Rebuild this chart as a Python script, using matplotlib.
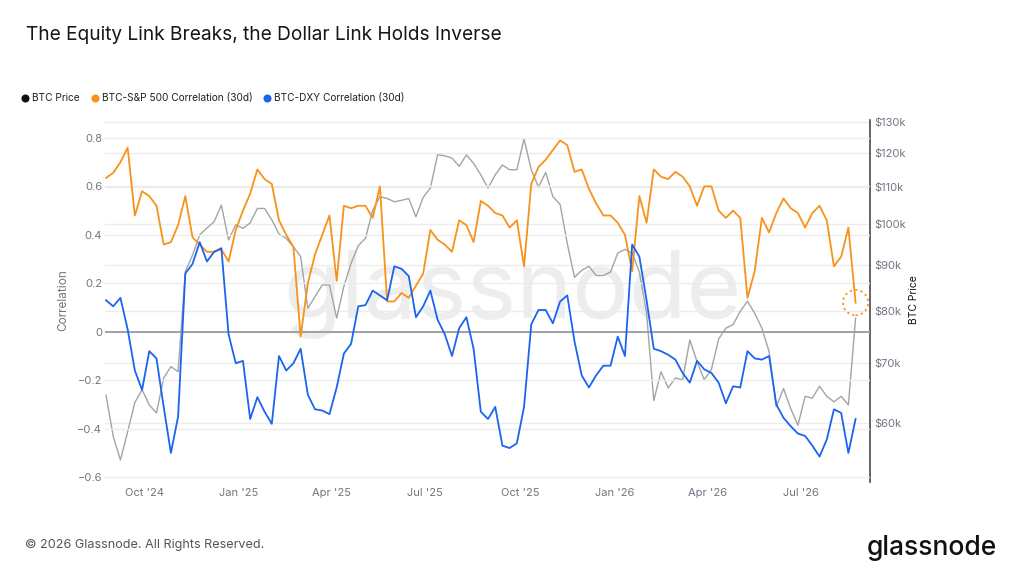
import matplotlib
matplotlib.use("Agg")
import matplotlib.pyplot as plt
import matplotlib.dates as mdates
from matplotlib.lines import Line2D
import pandas as pd

plt.rcParams['font.family'] = ['Inter', 'DejaVu Sans']

# ---------------- data (weekly samples) ----------------
dates = pd.date_range('2024-08-25', periods=105, freq='7D')

sp500_corr = [0.635, 0.656, 0.70, 0.76, 0.48, 0.58, 0.56, 0.52, 0.36, 0.37,
              0.44, 0.56, 0.39, 0.36, 0.33, 0.33, 0.34, 0.29, 0.42, 0.50,
              0.57, 0.67, 0.63, 0.61, 0.46, 0.40, 0.35, -0.02, 0.20, 0.32,
              0.40, 0.48, 0.21, 0.52, 0.51, 0.52, 0.52, 0.47, 0.60, 0.125,
              0.125, 0.16, 0.14, 0.19, 0.24, 0.42, 0.38, 0.36, 0.33, 0.46,
              0.44, 0.37, 0.54, 0.52, 0.49, 0.48, 0.43, 0.46, 0.27, 0.61,
              0.68, 0.71, 0.75, 0.79, 0.77, 0.66, 0.67, 0.59, 0.53, 0.48,
              0.48, 0.45, 0.40, 0.25, 0.56, 0.45, 0.67, 0.64, 0.63, 0.66,
              0.64, 0.60, 0.52, 0.60, 0.60, 0.50, 0.47, 0.50, 0.47, 0.14,
              0.25, 0.47, 0.41, 0.49, 0.55, 0.51, 0.49, 0.43, 0.49, 0.52,
              0.46, 0.27, 0.31, 0.43, 0.12]

dxy_corr = [0.13, 0.105, 0.14, 0.01, -0.16, -0.24, -0.08, -0.11, -0.31, -0.50,
            -0.35, 0.24, 0.28, 0.37, 0.29, 0.33, 0.345, -0.01, -0.13, -0.12,
            -0.36, -0.27, -0.33, -0.38, -0.10, -0.16, -0.13, -0.07, -0.26, -0.32,
            -0.325, -0.34, -0.23, -0.09, -0.05, 0.105, 0.11, 0.17, 0.15, 0.13,
            0.27, 0.26, 0.23, 0.06, 0.105, 0.17, 0.05, -0.01, -0.10, 0.015,
            0.06, -0.07, -0.33, -0.36, -0.31, -0.47, -0.48, -0.46, -0.31, 0.03,
            0.09, 0.09, 0.035, 0.125, 0.15, -0.04, -0.18, -0.23, -0.18, -0.14,
            -0.14, -0.02, -0.10, 0.36, 0.31, 0.13, -0.07, -0.08, -0.095, -0.115,
            -0.17, -0.21, -0.12, -0.155, -0.17, -0.21, -0.295, -0.225, -0.23, -0.08,
            -0.11, -0.115, -0.10, -0.30, -0.355, -0.39, -0.42, -0.43, -0.47, -0.515,
            -0.445, -0.32, -0.335, -0.50, -0.36]

btc_price_k = [64.4, 57.9, 54.5, 58.6, 63.2, 65.3, 62.8, 61.5, 67.3, 69.3,
               68.4, 88.5, 92.3, 97.3, 99.0, 100.6, 105.0, 96.0, 99.8, 98.9,
               100.3, 104.1, 104.1, 101.1, 97.5, 96.4, 94.3, 92.0, 80.5, 83.0,
               85.5, 85.5, 78.5, 85.2, 90.4, 94.6, 96.4, 103.6, 107.3, 106.8,
               105.9, 106.3, 106.8, 101.9, 107.1, 109.7, 119.5, 119.2, 118.5, 116.0,
               119.5, 116.9, 113.5, 109.7, 113.5, 116.4, 115.0, 115.0, 124.5, 115.0,
               110.0, 114.2, 107.3, 105.2, 95.1, 87.2, 88.8, 89.7, 87.6, 87.6,
               88.4, 92.8, 93.7, 92.8, 88.4, 79.5, 63.5, 68.4, 65.6, 67.3,
               67.0, 74.2, 70.2, 67.0, 68.8, 74.4, 76.5, 77.2, 79.9, 82.0,
               79.5, 76.5, 72.0, 62.5, 65.5, 62.2, 59.6, 64.2, 63.9, 65.9,
               64.2, 63.3, 64.2, 62.8, 78.5]

corr_ticks = [-0.6, -0.4, -0.2, 0, 0.2, 0.4, 0.6, 0.8]
corr_tick_labels = ['\u22120.6', '\u22120.4', '\u22120.2', '0', '0.2', '0.4', '0.6', '0.8']
price_ticks = [60, 70, 80, 90, 100, 110, 120, 130]
price_tick_labels = ['$60k', '$70k', '$80k', '$90k', '$100k', '$110k', '$120k', '$130k']

title = 'The Equity Link Breaks, the Dollar Link Holds Inverse'
legend_labels = ['BTC Price', 'BTC-S&P 500 Correlation (30d)', 'BTC-DXY Correlation (30d)']

# ---------------- styling ----------------
C_ORANGE = '#f7931a'
C_BLUE = '#1a64f0'
C_GRAY = '#a4a4a4'
C_TICK = '#6e7681'
C_GRID = '#ececec'

W, H = 1024, 576
fig = plt.figure(figsize=(W / 100, H / 100), dpi=100)
fig.patch.set_facecolor('white')

L, R, T, B = 105, 870, 120, 482
ax_p = fig.add_axes([L / W, 1 - B / H, (R - L) / W, (B - T) / H])
ax_c = ax_p.twinx()

# price axis (bottom layer, right side)
ax_p.set_yscale('log')
ax_p.set_ylim(51.5, 130.7)
ax_p.yaxis.tick_right()
ax_p.yaxis.set_label_position('right')
ax_p.set_yticks(price_ticks)
ax_p.set_yticklabels(price_tick_labels)
ax_p.yaxis.set_minor_locator(matplotlib.ticker.NullLocator())
ax_p.grid(axis='y', color=C_GRID, lw=1.0)
ax_p.set_axisbelow(True)
ax_p.plot(dates, btc_price_k, color=C_GRAY, lw=1.0, zorder=2)

ax_p.text(0.533, (B - 318) / (B - T), 'glassnode', transform=ax_p.transAxes,
          ha='center', va='baseline', fontsize=68, color='#ededed', zorder=0.1)

# correlation axis (top layer, left side)
ax_c.yaxis.tick_left()
ax_c.yaxis.set_label_position('left')
ax_c.set_ylim(-0.62, 0.874)
ax_c.set_yticks(corr_ticks)
ax_c.set_yticklabels(corr_tick_labels)
ax_c.grid(axis='y', color=C_GRID, lw=1.0)
ax_c.set_axisbelow(True)
ax_c.patch.set_visible(False)
ax_c.axhline(0, color='#8f949c', lw=1.2, zorder=1)
ax_c.plot(dates, sp500_corr, color=C_ORANGE, lw=1.3, zorder=3)
ax_c.plot(dates, dxy_corr, color=C_BLUE, lw=1.3, zorder=3)
ax_c.scatter([dates[-1]], [sp500_corr[-1]], s=330, facecolors='none',
             edgecolors=C_ORANGE, linewidths=1.3, linestyle=(0, (1.2, 1.8)), zorder=4)

# x axis
ax_p.set_xlim(pd.Timestamp('2024-08-24'), pd.Timestamp('2026-09-06'))
ax_p.xaxis.set_major_locator(mdates.MonthLocator(bymonth=[1, 4, 7, 10]))
ax_p.xaxis.set_major_formatter(mdates.DateFormatter("%b '%y"))
ax_c.tick_params(axis='x', which='both', bottom=False, labelbottom=False, top=False, labeltop=False)

for ax in (ax_p, ax_c):
    for s in ax.spines.values():
        s.set_visible(False)
ax_p.spines['right'].set_visible(True)
ax_p.spines['right'].set_color('#4a4a4a')
ax_p.spines['right'].set_linewidth(1.2)

ax_p.tick_params(axis='x', length=0, pad=4, labelsize=8, labelcolor=C_TICK)
ax_p.tick_params(axis='y', length=0, pad=3, labelsize=8, labelcolor=C_TICK)
ax_c.tick_params(axis='y', length=0, pad=2, labelsize=8, labelcolor=C_TICK)

# axis titles
fig.text(63 / W, 1 - 300 / H, 'Correlation', rotation=90, ha='center', va='center',
         fontsize=8.5, color=C_TICK)
fig.text(914 / W, 1 - 300 / H, 'BTC Price', rotation=90, ha='center', va='center',
         fontsize=7.5, color='#111111')

# title
fig.text(26 / W, 1 - 35 / H, title, ha='left', va='center', fontsize=13.75, color='#161616')

# legend
legend_colors = ['#111111', C_ORANGE, C_BLUE]
legend_x = [25, 95, 267]
for lx, lab, col in zip(legend_x, legend_labels, legend_colors):
    fig.add_artist(Line2D([lx / W], [1 - 98 / H], marker='o', markersize=4.8, color=col,
                          linestyle='none', transform=fig.transFigure))
    fig.text((lx + 7) / W, 1 - 98 / H, lab, ha='left', va='center', fontsize=7.3, color='#222222')

# footer
fig.text(25 / W, 1 - 545 / H, '\u00a9 2026 Glassnode. All Rights Reserved.', ha='left', va='center',
         fontsize=9.1, color='#555555')
fig.text(997 / W, 1 - 555 / H, 'glassnode', ha='right', va='baseline', fontsize=19,
         color='#111111', fontweight='medium')

fig.savefig('out.png', dpi=100, facecolor='white')
